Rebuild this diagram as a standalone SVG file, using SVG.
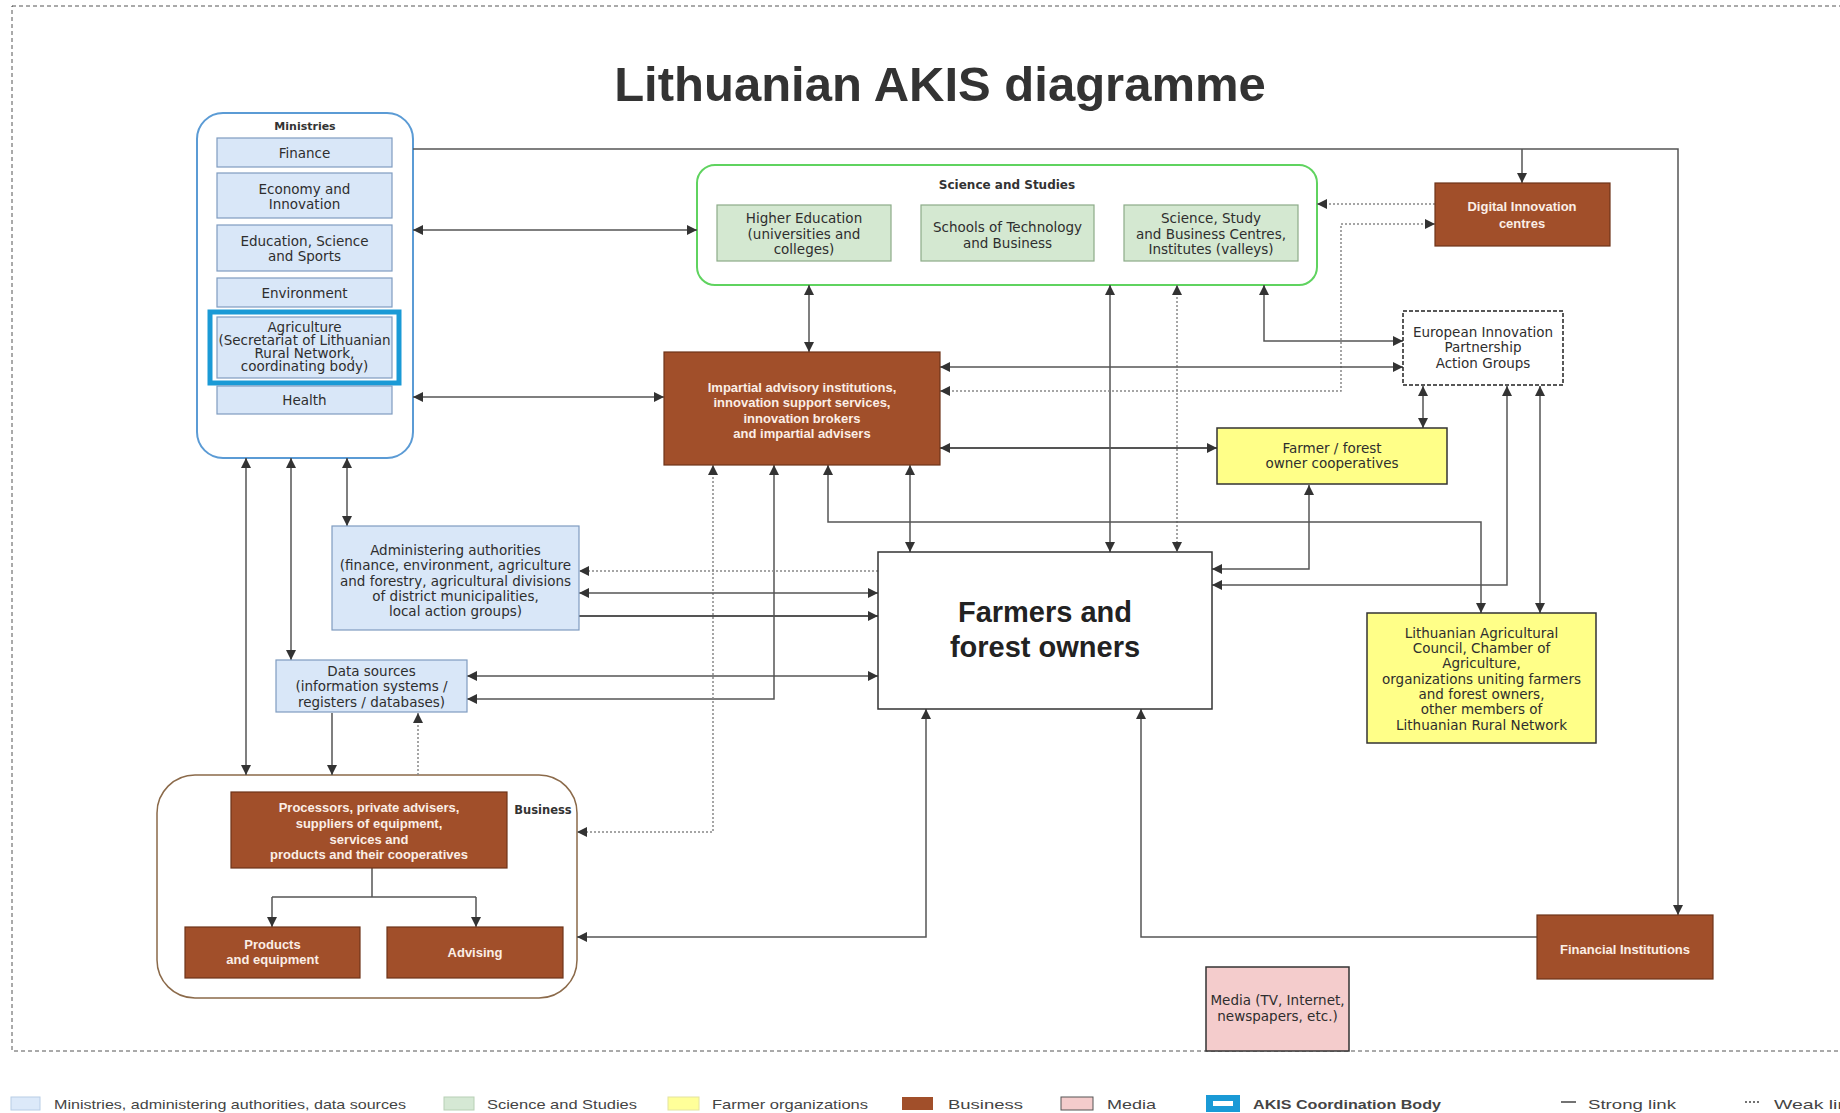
<svg xmlns="http://www.w3.org/2000/svg" width="1840" height="1113" viewBox="0 0 1840 1113">
<style>
.t{font-family:"DejaVu Sans","Liberation Sans",sans-serif;fill:#2e2e2e;text-anchor:middle;dominant-baseline:central;font-size:13.5px}
.tb{font-family:"DejaVu Sans","Liberation Sans",sans-serif;fill:#333;text-anchor:middle;dominant-baseline:central;font-weight:bold}
.w{font-family:"Liberation Sans",Arial,sans-serif;font-weight:bold;fill:#fbeee6;text-anchor:middle;dominant-baseline:central;font-size:13px}
.blue{fill:#d9e7f8;stroke:#7f9cc0;stroke-width:1.2}
.green{fill:#d4e8d1;stroke:#8cab88;stroke-width:1.2}
.brown{fill:#a14f2a;stroke:#6e3419;stroke-width:1.2}
.yellow{fill:#ffff88;stroke:#333;stroke-width:1.5}
.c{fill:none;stroke:#555;stroke-width:1.5;marker-end:url(#a)}
.cb{fill:none;stroke:#555;stroke-width:1.5;marker-start:url(#a);marker-end:url(#a)}
.d{fill:none;stroke:#888;stroke-width:1.5;stroke-dasharray:2 2;marker-end:url(#a)}
.db{fill:none;stroke:#888;stroke-width:1.5;stroke-dasharray:2 2;marker-start:url(#a);marker-end:url(#a)}
.lg{font-family:"Liberation Sans",Arial,sans-serif;fill:#444;font-size:13px;dominant-baseline:central}
.big{font-family:"Liberation Sans",Arial,sans-serif;font-weight:bold;font-size:29px;fill:#222;text-anchor:middle;dominant-baseline:central}
</style>
<defs>
<marker id="a" viewBox="0 0 10 10" refX="10" refY="5" markerWidth="10" markerHeight="10" markerUnits="userSpaceOnUse" orient="auto-start-reverse"><path d="M0,0 L10,5 L0,10 z" fill="#333"/></marker>
</defs>
<rect x="0" y="0" width="1840" height="1113" fill="#fff"/>
<rect x="12" y="6" width="1850" height="1045" fill="none" stroke="#555" stroke-width="1" stroke-dasharray="4 3"/>
<text x="940" y="84" font-family="Liberation Sans,Arial,sans-serif" font-weight="bold" font-size="49" fill="#333" text-anchor="middle" dominant-baseline="central">Lithuanian AKIS diagramme</text>

<g id="ministries">
<rect x="197" y="113" width="216" height="345" rx="26" fill="#fff" stroke="#5b9bd5" stroke-width="2"/>
<text class="tb" x="305" y="126" font-size="11">Ministries</text>
</g>
<g id="science">
<rect x="697" y="165" width="620" height="120" rx="18" fill="#fff" stroke="#5fd35f" stroke-width="2"/>
<text class="tb" x="1007" y="185" font-size="12">Science and Studies</text>
</g>
<g id="business"><rect x="157" y="775" width="420" height="223" rx="38" fill="#fff" stroke="#8b6a4a" stroke-width="1.5"/><text class="tb" x="543" y="810" font-size="11.5">Business</text></g>

<g id="connectors">
<path class="c" d="M413,149 H1678 V915"/>
<path class="c" d="M1522,149 V183"/>
<path class="cb" d="M413,230 H697"/>
<path class="cb" d="M413,397 H664"/>
<path class="cb" d="M246,458 V775"/>
<path class="cb" d="M291,458 V660"/>
<path class="cb" d="M347,458 V526"/>
<path class="cb" d="M809,285 V352"/>
<path class="cb" d="M1110,285 V552"/>
<path class="db" d="M1177,285 V552"/>
<path class="cb" d="M1264,285 V341 H1403"/>
<path class="d" d="M1435,204 H1317"/>
<path class="db" d="M940,391 H1341 V224 H1435"/>
<path class="cb" d="M940,367 H1403"/>
<path class="cb" style="stroke-width:2.2" d="M940,448 H1217"/>
<path class="cb" d="M1423,386 V428"/>
<path class="cb" d="M1309,485 V569 H1212"/>
<path class="cb" d="M1507,386 V585 H1212"/>
<path class="cb" d="M1540,386 V613"/>
<path class="cb" d="M828,465 V522 H1481 V613"/>
<path class="cb" d="M910,465 V552"/>
<path class="cb" d="M774,465 V699 H467"/>
<path class="db" d="M713,465 V832 H577"/>
<path class="d" d="M878,571 H579"/>
<path class="cb" d="M579,593 H878"/>
<path class="c" style="stroke-width:2.2" d="M579,616 H878"/>
<path class="cb" d="M467,676 H878"/>
<path class="c" d="M332,713 V775"/>
<path class="d" d="M418,775 V713"/>
<path class="cb" d="M926,709 V937 H577"/>
<path class="c" d="M1537,937 H1141 V709"/>
<path fill="none" stroke="#555" stroke-width="1.5" d="M372,868 V897 M272,897 H476"/>
<path class="c" d="M272,897 V927"/>
<path class="c" d="M476,897 V927"/>
</g>

<g id="finance"><rect class="blue" x="217" y="138" width="175" height="29"/><text class="t" x="304.5" y="152.5" font-size="14.5">Finance</text></g>
<g id="economy"><rect class="blue" x="217" y="173" width="175" height="45"/><text class="t" x="304.5" y="189" font-size="14.5">Economy and</text><text class="t" x="304.5" y="204" font-size="14.5">Innovation</text></g>
<g id="education"><rect class="blue" x="217" y="225" width="175" height="46"/><text class="t" x="304.5" y="241" font-size="14.5">Education, Science</text><text class="t" x="304.5" y="256" font-size="14.5">and Sports</text></g>
<g id="environment"><rect class="blue" x="217" y="278" width="175" height="29"/><text class="t" x="304.5" y="293" font-size="14.5">Environment</text></g>
<g id="agriculture"><rect class="blue" x="217" y="317" width="175" height="61"/><rect x="210" y="312" width="189" height="71" fill="none" stroke="#1a9ad6" stroke-width="5"/>
<text class="t" x="304.5" y="327" font-size="10">Agriculture</text><text class="t" x="304.5" y="340" font-size="10">(Secretariat of Lithuanian</text><text class="t" x="304.5" y="353" font-size="10">Rural Network,</text><text class="t" x="304.5" y="366" font-size="10">coordinating body)</text></g>
<g id="health"><rect class="blue" x="217" y="386" width="175" height="28"/><text class="t" x="304.5" y="400" font-size="14.5">Health</text></g>

<g id="higher-education"><rect class="green" x="717" y="205" width="174" height="56"/><text class="t" x="804" y="218">Higher Education</text><text class="t" x="804" y="234">(universities and</text><text class="t" x="804" y="249">colleges)</text></g>
<g id="schools"><rect class="green" x="921" y="205" width="173" height="56"/><text class="t" x="1007.5" y="227">Schools of Technology</text><text class="t" x="1007.5" y="243">and Business</text></g>
<g id="science-centres"><rect class="green" x="1124" y="205" width="174" height="56"/><text class="t" x="1211" y="218">Science, Study</text><text class="t" x="1211" y="234">and Business Centres,</text><text class="t" x="1211" y="249">Institutes (valleys)</text></g>

<g id="digital"><rect class="brown" x="1435" y="183" width="175" height="63"/><text class="w" x="1522" y="206">Digital Innovation</text><text class="w" x="1522" y="223">centres</text></g>

<g id="eip"><rect x="1403" y="311" width="160" height="74" fill="#fff" stroke="#222" stroke-width="1.5" stroke-dasharray="4 2"/><text class="t" x="1483" y="332">European Innovation</text><text class="t" x="1483" y="347">Partnership</text><text class="t" x="1483" y="363">Action Groups</text></g>

<g id="impartial"><rect class="brown" x="664" y="352" width="276" height="113"/><text class="w" x="802" y="387" font-size="13.5">Impartial advisory institutions,</text><text class="w" x="802" y="402" font-size="13.5">innovation support services,</text><text class="w" x="802" y="418" font-size="13.5">innovation brokers</text><text class="w" x="802" y="433" font-size="13.5">and impartial advisers</text></g>

<g id="coops"><rect class="yellow" x="1217" y="428" width="230" height="56"/><text class="t" x="1332" y="448">Farmer / forest</text><text class="t" x="1332" y="463">owner cooperatives</text></g>

<g id="farmers"><rect x="878" y="552" width="334" height="157" fill="#fff" stroke="#333" stroke-width="1.5"/><text class="big" x="1045" y="612">Farmers and</text><text class="big" x="1045" y="647">forest owners</text></g>

<g id="council"><rect class="yellow" x="1367" y="613" width="229" height="130"/><text class="t" x="1481.5" y="633">Lithuanian Agricultural</text><text class="t" x="1481.5" y="648">Council, Chamber of</text><text class="t" x="1481.5" y="663">Agriculture,</text><text class="t" x="1481.5" y="679">organizations uniting farmers</text><text class="t" x="1481.5" y="694">and forest owners,</text><text class="t" x="1481.5" y="709">other members of</text><text class="t" x="1481.5" y="725">Lithuanian Rural Network</text></g>

<g id="administering"><rect class="blue" x="332" y="526" width="247" height="104"/><text class="t" x="455.5" y="550">Administering authorities</text><text class="t" x="455.5" y="565">(finance, environment, agriculture</text><text class="t" x="455.5" y="581">and forestry, agricultural divisions</text><text class="t" x="455.5" y="596">of district municipalities,</text><text class="t" x="455.5" y="611">local action groups)</text></g>

<g id="data-sources"><rect class="blue" x="276" y="660" width="191" height="52"/><text class="t" x="371.5" y="671">Data sources</text><text class="t" x="371.5" y="686">(information systems /</text><text class="t" x="371.5" y="702">registers / databases)</text></g>

<g id="processors"><rect class="brown" x="231" y="792" width="276" height="76"/><text class="w" x="369" y="807">Processors, private advisers,</text><text class="w" x="369" y="823">suppliers of equipment,</text><text class="w" x="369" y="839">services and</text><text class="w" x="369" y="854">products and their cooperatives</text></g>
<g id="products"><rect class="brown" x="185" y="927" width="175" height="51"/><text class="w" x="272.5" y="944">Products</text><text class="w" x="272.5" y="959">and equipment</text></g>
<g id="advising"><rect class="brown" x="387" y="927" width="176" height="51"/><text class="w" x="475" y="952">Advising</text></g>

<g id="financial"><rect class="brown" x="1537" y="915" width="176" height="64"/><text class="w" x="1625" y="949" font-size="14">Financial Institutions</text></g>
<g id="media"><rect x="1206" y="967" width="143" height="84" fill="#f4cccc" stroke="#333" stroke-width="1.5"/><text class="t" x="1277.5" y="1000" font-size="12">Media (TV, Internet,</text><text class="t" x="1277.5" y="1016" font-size="12">newspapers, etc.)</text></g>

<g id="legend">
<rect x="11" y="1097" width="29" height="13" fill="#dce9f9" stroke="#b8cde6"/>
<text class="lg" x="54" y="1104" textLength="352" lengthAdjust="spacingAndGlyphs">Ministries, administering authorities, data sources</text>
<rect x="444" y="1097" width="30" height="13" fill="#d5e8d4" stroke="#b7d0b5"/>
<text class="lg" x="487" y="1104" textLength="150" lengthAdjust="spacingAndGlyphs">Science and Studies</text>
<rect x="668" y="1097" width="31" height="13" fill="#ffff99" stroke="#e4e4a0"/>
<text class="lg" x="712" y="1104" textLength="156" lengthAdjust="spacingAndGlyphs">Farmer organizations</text>
<rect x="902" y="1097" width="31" height="13" fill="#a14f2a"/>
<text class="lg" x="948" y="1104" textLength="75" lengthAdjust="spacingAndGlyphs">Business</text>
<rect x="1061" y="1097" width="32" height="13" fill="#f4cccc" stroke="#555"/>
<text class="lg" x="1107" y="1104" textLength="49" lengthAdjust="spacingAndGlyphs">Media</text>
<rect x="1206" y="1095" width="34" height="17" fill="#1a9ad6"/>
<rect x="1213" y="1101" width="20" height="5" fill="#fff"/>
<text class="lg" x="1253" y="1104" font-weight="bold" fill="#1a2a4a" textLength="188" lengthAdjust="spacingAndGlyphs">AKIS Coordination Body</text>
<line x1="1561" y1="1102" x2="1576" y2="1102" stroke="#444" stroke-width="1.5"/>
<text class="lg" x="1588" y="1104" textLength="88" lengthAdjust="spacingAndGlyphs">Strong link</text>
<line x1="1745" y1="1102" x2="1760" y2="1102" stroke="#444" stroke-width="1.5" stroke-dasharray="2 2"/>
<text class="lg" x="1774" y="1104" textLength="84" lengthAdjust="spacingAndGlyphs">Weak link</text>
</g>
</svg>
